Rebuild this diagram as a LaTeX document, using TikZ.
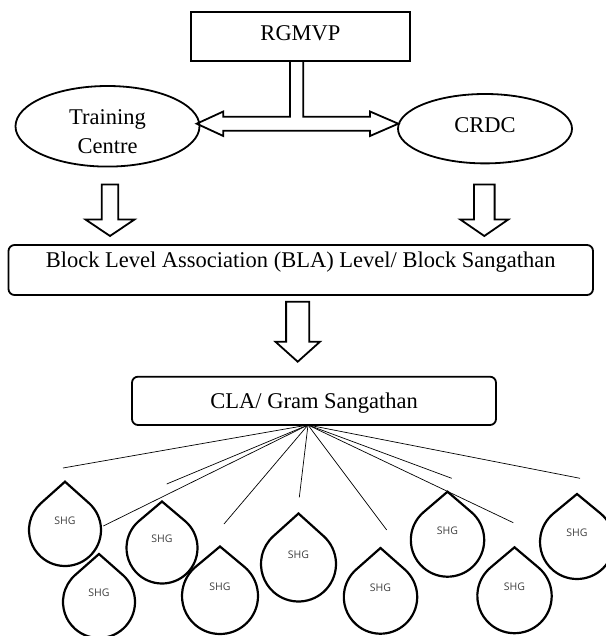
\documentclass[tikz,border=0pt]{standalone}
\usepackage{fontspec}
\setmainfont{Liberation Serif}
\newfontfamily\shgfont{Open Sans}
\usetikzlibrary{shapes.geometric}
\newcommand{\blockdown}[6]{%
  \draw[blockarrow] (#1-#5,-#2) -- (#1-#5,-#3) -- (#1-#6,-#3) -- (#1,-#4) -- (#1+#6,-#3) -- (#1+#5,-#3) -- (#1+#5,-#2) -- cycle;}
\newcommand{\shgdrop}[5]{%
  \begin{scope}[shift={(#2,-#3)}]
    \pgfmathsetmacro{\dang}{90-acos(#4/#5)}
    \draw[dropline] (0,#5) -- (\dang:#4) arc[start angle=\dang, end angle={-180-\dang}, radius=#4] -- cycle;
    \node[shg] (#1) at (0,9) {SHG};
  \end{scope}}
\begin{document}
\begin{tikzpicture}[x=1pt,y=1pt,
  box/.style={draw, line width=1.8pt, inner sep=0pt},
  rbox/.style={box, rounded corners=6pt},
  oval/.style={draw, ellipse, line width=1.8pt, inner sep=0pt},
  lbl/.style={font=\fontsize{22.5}{27}\selectfont, inner sep=0pt, anchor=base},
  blockarrow/.style={draw, line width=1.8pt, line join=miter},
  thinline/.style={draw, line width=0.7pt},
  dropline/.style={draw, line width=2.2pt, line join=miter},
  shg/.style={font=\shgfont\fontsize{10.5}{12}\selectfont, text=black!75, inner sep=0pt},
]
\useasboundingbox (0,0) rectangle (605,-636);

% top box
\node[box, minimum width=219, minimum height=49] (rgmvp) at (300.5,-36.2) {};
\node[lbl] (rgmvpt) at (300.5,-41) {RGMVP};

% ellipses
\node[oval, minimum width=184, minimum height=80.6] (tc) at (107.5,-126.3) {};
\node[lbl] (tct1) at (107.5,-125) {Training};
\node[lbl] (tct2) at (107.5,-154) {Centre};
\node[oval, minimum width=174, minimum height=69.4] (crdc) at (485,-128.7) {};
\node[lbl] (crdct) at (485,-132.7) {CRDC};

% T-shaped double arrow
\draw[blockarrow] (290,-60.7) -- (290,-116.7) -- (223.3,-116.7) -- (223.3,-111.5) -- (196.7,-123.7) -- (223.3,-136) -- (223.3,-130.7) -- (370,-130.7) -- (370,-136) -- (398.3,-123.7) -- (370,-111.5) -- (370,-116.7) -- (303.3,-116.7) -- (303.3,-60.7);

% down arrows
\blockdown{110}{184.5}{219.5}{236}{8.3}{24.5}
\blockdown{484.3}{184.5}{219.5}{236}{10.3}{24}

% BLA box
\node[rbox, minimum width=584.5, minimum height=50] (bla) at (300.75,-270) {};
\node[lbl] (blat) at (300.7,-267.3) {Block Level Association (BLA) Level/ Block Sangathan};

\blockdown{297.7}{301.7}{341.7}{361.7}{11.6}{22.3}

% CLA box
\node[rbox, minimum width=364, minimum height=48.3] (cla) at (314,-400.85) {};
\node[lbl] (clat) at (314.2,-408) {CLA/ Gram Sangathan};

% fan lines
\coordinate (hub) at (308,-425);
\coordinate (e1) at (63,-468);
\coordinate (e2) at (166.7,-484);
\coordinate (e3) at (103.3,-526);
\coordinate (e4) at (224,-524);
\coordinate (e5) at (299.3,-497.3);
\coordinate (e6) at (386.7,-530);
\coordinate (e7) at (451.7,-478.3);
\coordinate (e8) at (513.3,-522.7);
\coordinate (e9) at (580,-478.3);
\foreach \e in {e1,e2,e3,e4,e5,e6,e7,e8,e9} \draw[thinline] (hub) -- (\e);

% SHG drops
\shgdrop{s1}{65}{530}{36}{48.3}
\shgdrop{s2}{162}{548}{35.5}{46.5}
\shgdrop{s3}{99}{602}{36}{48}
\shgdrop{s4}{220}{596}{38}{49.5}
\shgdrop{s5}{298.5}{564}{37.5}{50.5}
\shgdrop{s6}{380.5}{597}{36.7}{49}
\shgdrop{s7}{447.5}{540}{36.7}{48.3}
\shgdrop{s8}{514.5}{596}{37.2}{48.7}
\shgdrop{s9}{577}{542}{37}{48}
\end{tikzpicture}
\end{document}
